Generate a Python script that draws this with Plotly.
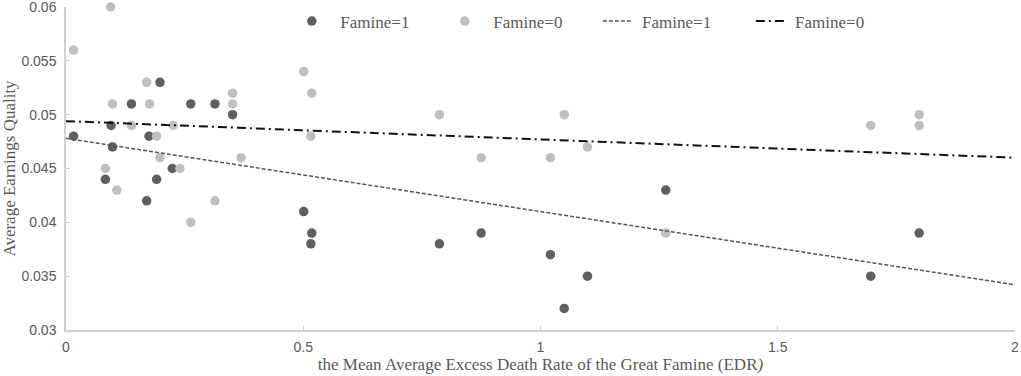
import plotly.graph_objects as go

# Famine=1 (dark points)
edr_f1 = [0.016, 0.095, 0.098, 0.083, 0.138, 0.175, 0.170, 0.198, 0.191, 0.224, 0.263, 0.314, 0.351,
          0.501, 0.518, 0.516, 0.787, 0.875, 1.021, 1.099, 1.050, 1.264, 1.696, 1.798]
eq_f1 = [0.048, 0.049, 0.047, 0.044, 0.051, 0.048, 0.042, 0.053, 0.044, 0.045, 0.051, 0.051, 0.050,
         0.041, 0.039, 0.038, 0.038, 0.039, 0.037, 0.035, 0.032, 0.043, 0.035, 0.039]

# Famine=0 (light points)
edr_f0 = [0.016, 0.094, 0.098, 0.083, 0.107, 0.138, 0.170, 0.176, 0.191, 0.198, 0.226, 0.240, 0.263,
          0.314, 0.351, 0.351, 0.369, 0.501, 0.518, 0.516, 0.787, 0.875, 1.021, 1.050, 1.099, 1.264,
          1.696, 1.798, 1.798]
eq_f0 = [0.056, 0.060, 0.051, 0.045, 0.043, 0.049, 0.053, 0.051, 0.048, 0.046, 0.049, 0.045, 0.040,
         0.042, 0.052, 0.051, 0.046, 0.054, 0.052, 0.048, 0.050, 0.046, 0.046, 0.050, 0.047, 0.039,
         0.049, 0.050, 0.049]

# Linear trend lines (endpoints)
trend_x = [0, 2]
trend_f1 = [0.0478, 0.0342]
trend_f0 = [0.0494, 0.0460]

x_ticks = [0, 0.5, 1, 1.5, 2]
x_ticklabels = ["0", "0.5", "1", "1.5", "2"]
y_ticks = [0.03, 0.035, 0.04, 0.045, 0.05, 0.055, 0.06]
y_ticklabels = ["0.03", "0.035", "0.04", "0.045", "0.05", "0.055", "0.06"]

DARK = "#5f5f5f"
LIGHT = "#bfbfbf"
SERIF = "Liberation Serif, Times New Roman, serif"
SANS = "Liberation Sans, Arial, sans-serif"
NB = "\u00a0"

fig = go.Figure()
fig.add_trace(go.Scatter(x=edr_f1, y=eq_f1, mode="markers", name=NB * 2 + "Famine=1", cliponaxis=False,
                         marker=dict(color=DARK, size=9.5, line=dict(width=0))))
fig.add_trace(go.Scatter(x=edr_f0, y=eq_f0, mode="markers", name=NB * 2 + "Famine=0", cliponaxis=False,
                         marker=dict(color=LIGHT, size=9.5, line=dict(width=0))))
fig.add_trace(go.Scatter(x=trend_x, y=trend_f1, mode="lines", name=NB + "Famine=1",
                         line=dict(color="#555555", width=1.5, dash="4px,2px")))
fig.add_trace(go.Scatter(x=trend_x, y=trend_f0, mode="lines", name=NB + "Famine=0",
                         line=dict(color="#111111", width=2, dash="9px,4px,2px,4px")))

fig.update_layout(
    width=1021, height=376,
    margin=dict(l=66, r=6, t=7, b=46, autoexpand=False),
    paper_bgcolor="white", plot_bgcolor="white",
    showlegend=True,
    legend=dict(orientation="h", x=0.238, xanchor="left", y=0.955, yanchor="middle",
                font=dict(family=SERIF, size=17, color="#595959"),
                entrywidth=108, entrywidthmode="pixels",
                bgcolor="rgba(0,0,0,0)", itemclick=False),
    xaxis=dict(range=[0, 2], tickvals=x_ticks, ticktext=x_ticklabels, automargin=False,
               ticklabeloverflow="allow", ticklabelstandoff=3,
               showgrid=False, zeroline=False, showline=True, linecolor="#d0d0d0", linewidth=1.5,
               ticks="inside", ticklen=4, tickcolor="#d0d0d0",
               tickfont=dict(family=SANS, size=14, color="#595959"),
               title=dict(text="the Mean Average Excess Death Rate of the Great Famine (EDR<i>)</i>",
                          font=dict(family=SERIF, size=17, color="#595959"), standoff=2)),
    yaxis=dict(range=[0.03, 0.06], tickvals=y_ticks, ticktext=y_ticklabels, automargin=False,
               ticklabeloverflow="allow", ticklabelstandoff=5,
               showgrid=False, zeroline=False, showline=True, linecolor="#d0d0d0", linewidth=1.5,
               ticks="inside", ticklen=4, tickcolor="#d0d0d0",
               tickfont=dict(family=SANS, size=14, color="#595959"),
               title=dict(text="Average Earnings Quality",
                          font=dict(family=SERIF, size=17, color="#595959"), standoff=6)),
)

fig.write_html("out.html", config={"displayModeBar": False},
               post_script="document.body.style.margin='0';")
